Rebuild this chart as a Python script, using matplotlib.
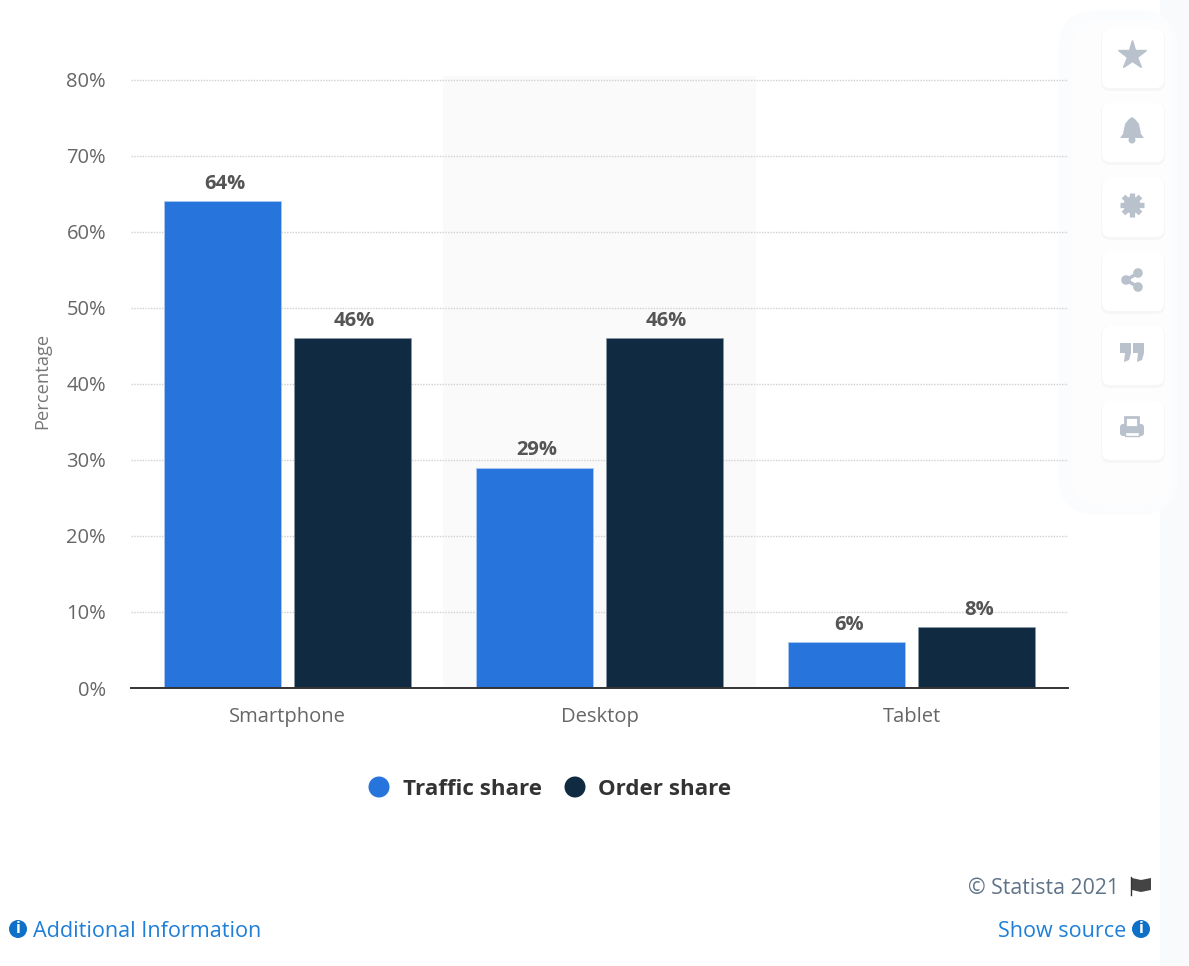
import numpy as np
import matplotlib
matplotlib.use("Agg")
import matplotlib.pyplot as plt
from matplotlib.patches import FancyBboxPatch, Rectangle, Circle, Polygon

plt.rcParams['font.family'] = ['Open Sans', 'DejaVu Sans']

# Chart data
categories = ['Smartphone', 'Desktop', 'Tablet']
traffic_share = [64, 29, 6]
order_share = [46, 46, 8]
y_ticks = [0, 10, 20, 30, 40, 50, 60, 70, 80]

W, H = 1189, 966
blue = '#2775dc'
navy = '#0f2a41'

fig = plt.figure(figsize=(W / 100, H / 100), dpi=100, facecolor='white')

# Overlay in pixel coordinates for the page furniture
page = fig.add_axes([0, 0, 1, 1], zorder=0)
page.set_xlim(0, W)
page.set_ylim(H, 0)
page.axis('off')

# Side panel behind the buttons
page.add_patch(Rectangle((1160, 0), 29, H, color='#f9fafb', lw=0))
page.add_patch(FancyBboxPatch((1058, 10), 120, 505, boxstyle='round,pad=0,rounding_size=40',
                              fc='#fbfcfd', ec='none'))
page.add_patch(FancyBboxPatch((1072, 20), 100, 485, boxstyle='round,pad=0,rounding_size=30',
                              fc='#fdfdfe', ec='none'))

# Main chart
ax = fig.add_axes([131 / W, 1 - 688 / H, (1068 - 131) / W, (688 - 76) / H], zorder=1)
ax.patch.set_alpha(0)
x = np.arange(len(categories))
bar_w = 0.375
offset = 0.208
label_shift = 0.007

ax.axvspan(0.5, 1.5, color='#fafafa', lw=0, zorder=0)
ax.bar(x - offset, traffic_share, bar_w, color=blue, edgecolor='#a9c8f0', linewidth=0.6, zorder=3)
ax.bar(x + offset, order_share, bar_w, color=navy, edgecolor='#8a9aa8', linewidth=0.4, zorder=3)

for xi, a, b in zip(x, traffic_share, order_share):
    ax.text(xi - offset + label_shift, a + 1.0, f'{a}%', ha='center', va='bottom', fontsize=14.5,
            fontweight='bold', color='#555555')
    ax.text(xi + offset + label_shift, b + 1.0, f'{b}%', ha='center', va='bottom', fontsize=14.5,
            fontweight='bold', color='#555555')

ax.set_xlim(-0.5, 2.5)
ax.set_ylim(0, 80.5)
ax.set_yticks(y_ticks)
ax.set_yticklabels([f'{t}%' for t in y_ticks], fontsize=14.5, color='#666666')
ax.set_xticks(x)
ax.set_xticklabels(categories, fontsize=14.5, color='#666666')
ax.tick_params(axis='both', length=0)
ax.tick_params(axis='x', pad=14)
ax.tick_params(axis='y', pad=18)
ax.grid(axis='y', color='#d0d0d0', linestyle=(0, (1, 1)), linewidth=1.0, zorder=1)
ax.set_axisbelow(True)
for s in ['top', 'right', 'left']:
    ax.spines[s].set_visible(False)
ax.spines['bottom'].set_color('#333333')
ax.spines['bottom'].set_linewidth(1.4)
ax.spines['bottom'].set_zorder(4)
ax.set_ylabel('Percentage', fontsize=13.2, color='#777777', va='center')
ax.yaxis.set_label_coords((42 - 131) / (1068 - 131), (688 - 381) / (688 - 76))

# Top overlay for legend, footer and buttons
top = fig.add_axes([0, 0, 1, 1], zorder=2)
top.set_xlim(0, W)
top.set_ylim(H, 0)
top.axis('off')
top.patch.set_alpha(0)

# Legend
top.add_patch(Circle((379, 787), 10.5, color=blue, lw=0))
top.text(403, 787, 'Traffic share', fontsize=16.1, fontweight='bold', color='#333333', va='center_baseline')
top.add_patch(Circle((575, 787), 10.5, color=navy, lw=0))
top.text(598, 787, 'Order share', fontsize=16.1, fontweight='bold', color='#333333', va='center_baseline')

# Footer
link = '#1f7fd8'
top.text(1119, 886, '© Statista 2021', fontsize=15.3, color='#5f7388', ha='right', va='center_baseline')
top.plot([1131, 1131], [877, 895], color='#333333', lw=1)
top.add_patch(Polygon([(1132, 878), (1141, 880), (1151, 878), (1151, 890), (1141, 892), (1132, 890)],
                      color='#444444', lw=0))
top.text(33, 929, 'Additional Information', fontsize=15.6, color=link, va='center_baseline')
top.text(1126, 929, 'Show source', fontsize=15.5, color=link, ha='right', va='center_baseline')
for cx in [18, 1141]:
    top.add_patch(Circle((cx, 929), 9, color='#0f70c8', lw=0))
    top.text(cx, 929, 'i', fontsize=11.5, fontweight='bold', color='white', ha='center', va='center')

# Side buttons
icon = '#b9c2cc'
centers = [56, 130, 205, 279, 353, 428]
for cy in centers:
    top.add_patch(FancyBboxPatch((1101, cy - 27), 64, 62, boxstyle='round,pad=0,rounding_size=9',
                                 fc='#eef0f2', ec='none', alpha=0.5))
    top.add_patch(FancyBboxPatch((1102, cy - 27), 62, 59, boxstyle='round,pad=0,rounding_size=8',
                                 fc='white', ec='none'))

# star
top.plot(1132, 55, marker='*', ms=21, color=icon, mec=icon)
# bell
top.add_patch(Polygon([(1120, 138), (1123, 134), (1125, 124), (1129, 119), (1132, 117), (1135, 119),
                       (1139, 124), (1141, 134), (1144, 138)], color=icon, lw=0))
top.add_patch(Circle((1132, 140), 3.5, color=icon, lw=0))
# gear
for ang in [0, 45, 90, 135]:
    dx, dy = 12 * np.cos(np.radians(ang)), 12 * np.sin(np.radians(ang))
    top.plot([1132 - dx, 1132 + dx], [205 - dy, 205 + dy], color=icon, lw=3.8, solid_capstyle='butt')
top.add_patch(Circle((1132, 205), 8.5, color=icon, lw=0))
top.add_patch(Circle((1132, 205), 3.5, color='white', lw=0))
# share
share_x = [1126, 1138, 1138]
share_y = [280, 273, 287]
top.plot([share_x[1], share_x[0], share_x[2]], [share_y[1], share_y[0], share_y[2]], color=icon, lw=2.5)
for sx, sy in zip(share_x, share_y):
    top.add_patch(Circle((sx, sy), 4.8, color=icon, lw=0))
# quote
for qx in [1120, 1133]:
    top.add_patch(Rectangle((qx, 343), 11, 10, color=icon, lw=0))
    top.add_patch(Polygon([(qx + 5, 353), (qx + 11, 353), (qx + 9, 360), (qx + 4, 362)], color=icon, lw=0))
# printer
top.add_patch(FancyBboxPatch((1120, 424), 24, 12, boxstyle='round,pad=0,rounding_size=3', fc=icon, ec='none'))
top.add_patch(Rectangle((1125, 417), 13, 10, fc='white', ec=icon, lw=2))
top.add_patch(Rectangle((1125, 432), 14, 4, fc='white', ec=icon, lw=1))

fig.savefig('out.png', dpi=100, facecolor='white')
